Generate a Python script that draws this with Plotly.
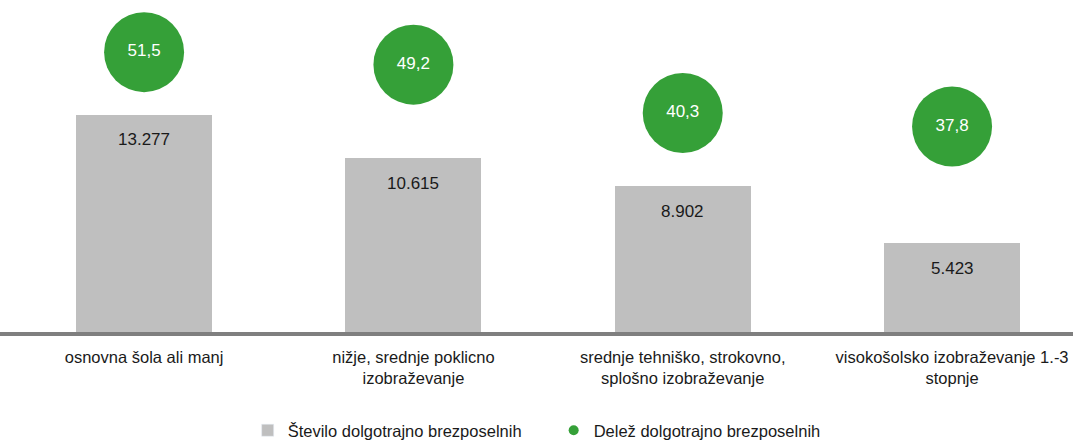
"""
Long-term unemployed by education level: counts (bars) and share (circles)
"""
import plotly.graph_objects as go

categories = [
    'osnovna šola ali manj',
    'nižje, srednje poklicno<br>izobraževanje',
    'srednje tehniško, strokovno,<br>splošno izobraževanje',
    'visokošolsko izobraževanje 1.-3<br>stopnje',
]
stevilo = [13277, 10615, 8902, 5423]
stevilo_labels = ['13.277', '10.615', '8.902', '5.423']
delez = [51.5, 49.2, 40.3, 37.8]
delez_labels = ['51,5', '49,2', '40,3', '37,8']

FONT = 'Liberation Sans, Arial, sans-serif'
GRAY = '#bfbfbf'
GREEN = '#35a038'

x_pos = list(range(len(categories)))

fig = go.Figure()

# bars - number of long-term unemployed
fig.add_trace(go.Bar(
    x=x_pos,
    y=stevilo,
    width=0.505,
    marker=dict(color=GRAY, line=dict(width=0)),
    name='Število dolgotrajno brezposelnih',
    showlegend=False,
))

# circles - share of long-term unemployed (secondary axis)
fig.add_trace(go.Scatter(
    x=x_pos,
    y=delez,
    yaxis='y2',
    mode='markers+text',
    marker=dict(size=80, color=GREEN),
    text=delez_labels,
    textposition='middle center',
    textfont=dict(family=FONT, size=17, color='white'),
    cliponaxis=False,
    showlegend=False,
))

# legend entries only
fig.add_trace(go.Bar(
    x=[None], y=[None],
    marker=dict(color=GRAY),
    name='Število dolgotrajno brezposelnih',
))
fig.add_trace(go.Scatter(
    x=[None], y=[None],
    mode='markers',
    marker=dict(size=10, color=GREEN),
    name='Delež dolgotrajno brezposelnih',
))

# value labels inside the bars, just under the top
for xi, v, lab in zip(x_pos, stevilo, stevilo_labels):
    fig.add_annotation(
        x=xi, y=v, text=lab,
        showarrow=False,
        yanchor='middle', yshift=-25,
        font=dict(family=FONT, size=17, color='#1a1a1a'),
    )

fig.update_layout(
    width=1073,
    height=448,
    margin=dict(l=0, r=0, t=0, b=116),
    plot_bgcolor='white',
    paper_bgcolor='white',
    font=dict(family=FONT, size=16.5, color='#1a1a1a'),
    bargap=0,
    xaxis=dict(
        range=[-0.535, 3.449],
        tickmode='array',
        tickvals=x_pos,
        ticktext=categories,
        showgrid=False,
        zeroline=False,
        showline=True,
        linecolor='#7f7f7f',
        linewidth=4,
        ticks='',
        ticklabelstandoff=7,
        ticklabeloverflow='allow',
        tickfont=dict(family=FONT, size=16.5, color='#1a1a1a'),
    ),
    yaxis=dict(
        range=[0, 20300],
        visible=False,
        showgrid=False,
        zeroline=False,
    ),
    yaxis2=dict(
        range=[0, 61.1],
        overlaying='y',
        visible=False,
        showgrid=False,
        zeroline=False,
    ),
    legend=dict(
        orientation='h',
        x=0.516,
        xanchor='center',
        yref='container',
        y=-0.03,
        yanchor='bottom',
        entrywidth=261,
        entrywidthmode='pixels',
        font=dict(family=FONT, size=16.5, color='#1a1a1a'),
        traceorder='normal',
    ),
)

# drop the browser's default 8px body margin so the figure sits at the corner
fig.write_html(
    "out.html",
    config={'displayModeBar': False},
    post_script="document.body.style.margin='0';",
)
